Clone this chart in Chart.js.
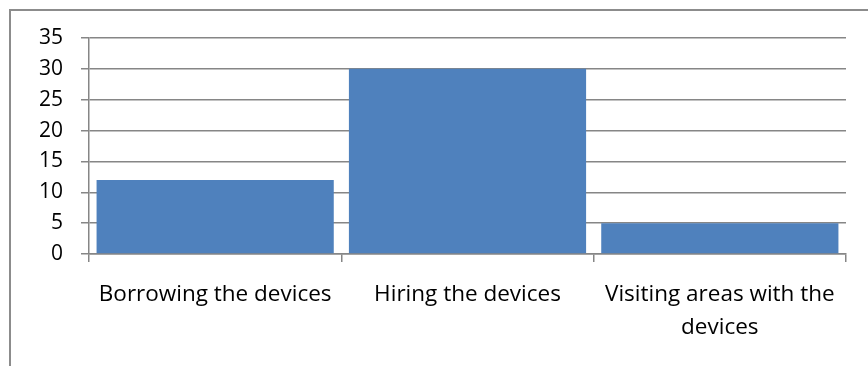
<!DOCTYPE html>
<html>
<head>
<meta charset="utf-8">
<script src="https://cdn.jsdelivr.net/npm/chart.js@4"></script>
<style>
  html, body { margin: 0; padding: 0; background: #fff; overflow: hidden; }
  #wrap { position: relative; width: 868px; height: 366px; }
  #frame {
    position: absolute; left: 9px; top: 9px; width: 1000px; height: 1000px;
    border-left: 2px solid #8c8c8c; border-top: 2px solid #8c8c8c;
  }
  #chart { position: absolute; left: 0; top: 0; }
</style>
</head>
<body>
<div id="wrap">
  <div id="frame"></div>
  <canvas id="chart" width="868" height="366"></canvas>
</div>
<script>
const categories = [
    'Borrowing the devices',
    'Hiring the devices',
    ['Visiting areas with the', 'devices']
];
const counts = [12, 30, 5];
const yMax = 35;
const yStep = 5;

const gridColor = '#868686';
const family = "'Open Sans', 'DejaVu Sans', sans-serif";

new Chart(document.getElementById('chart'), {
    type: 'bar',
    data: {
        labels: categories,
        datasets: [{
            data: counts,
            backgroundColor: '#4f81bd',
            borderWidth: 0,
            barPercentage: 0.94,
            categoryPercentage: 1
        }]
    },
    options: {
        responsive: false,
        animation: false,
        layout: { padding: { top: 38, right: 22, left: 0, bottom: 0 } },
        plugins: {
            legend: { display: false },
            tooltip: { enabled: false }
        },
        scales: {
            x: {
                afterFit: (scale) => { scale.height = 366 - 254; },
                grid: {
                    drawOnChartArea: false,
                    color: gridColor,
                    lineWidth: 1.5,
                    tickLength: 8,
                    offset: true
                },
                border: { color: gridColor, width: 1.5 },
                ticks: {
                    color: '#000',
                    font: { family: family, size: 22.5, lineHeight: 1.47 },
                    padding: 16,
                    maxRotation: 0,
                    autoSkip: false
                }
            },
            y: {
                min: 0,
                max: yMax,
                afterFit: (scale) => { scale.width = 89; },
                grid: { color: gridColor, lineWidth: 1.5, tickLength: 8 },
                border: { color: gridColor, width: 1.5 },
                ticks: {
                    stepSize: yStep,
                    autoSkip: false,
                    color: '#000',
                    font: { family: family, size: 21, lineHeight: 1.2 },
                    padding: 18
                }
            }
        }
    }
});
</script>
</body>
</html>
